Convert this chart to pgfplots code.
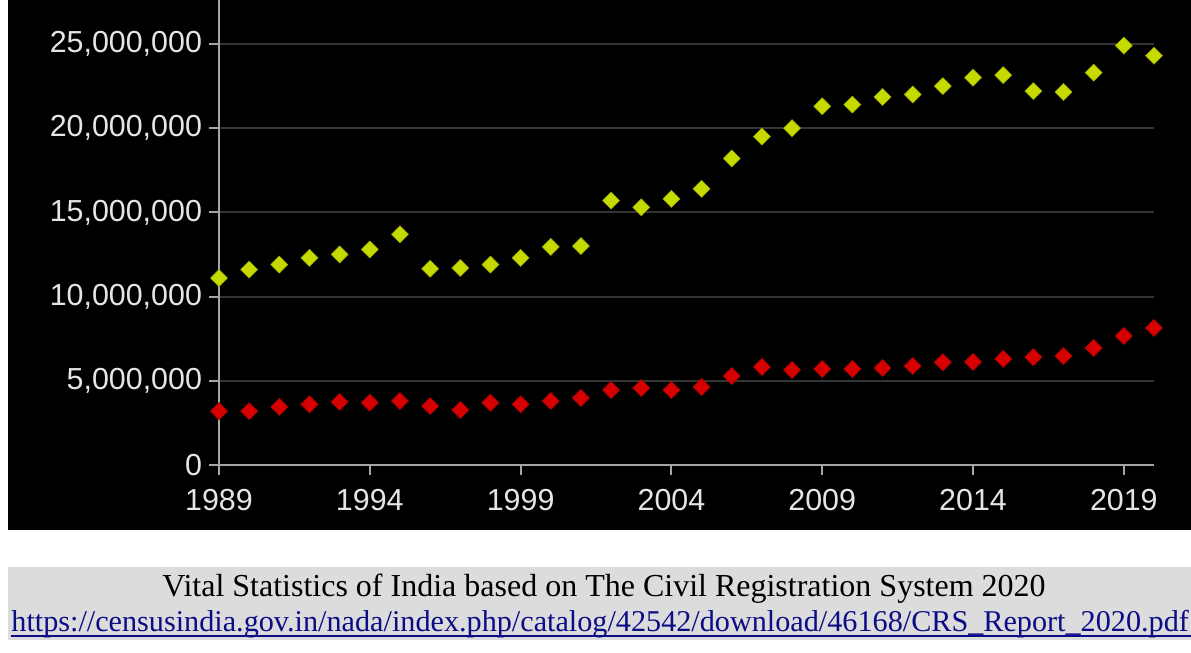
\documentclass[border=0pt]{standalone}
\usepackage{fontspec}
\setmainfont{Liberation Sans}
\newfontfamily\serif{Liberation Serif}
\usepackage{pgfplots}
\pgfplotsset{compat=1.18}

\definecolor{limeg}{RGB}{198,218,0}
\definecolor{redd}{RGB}{214,0,0}
\definecolor{gridc}{RGB}{52,52,52}
\definecolor{axc}{RGB}{165,165,165}
\definecolor{capbg}{RGB}{220,220,220}
\definecolor{linkc}{RGB}{12,12,135}

\begin{document}
\begin{tikzpicture}
\useasboundingbox (0,0) rectangle (595.5pt,-326.5pt);
% backgrounds (1px = 0.5pt)
\fill[black] (4pt,0) rectangle (595.5pt,-265pt);
\fill[capbg] (4pt,-283.5pt) rectangle (595.5pt,-320pt);

\begin{axis}[
    at={(109.5pt,-232.5pt)}, anchor=south west,
    scale only axis,
    width=467.5pt, height=232.5pt,
    xmin=1989, xmax=2020,
    ymin=0, ymax=27.61e6,
    axis x line*=bottom, axis y line*=left,
    axis line style={axc, line width=1pt, -},
    tick style={axc, line width=1pt},
    tick align=outside,
    major tick length=5pt,
    xtick={1989,1994,1999,2004,2009,2014,2019},
    ytick={0,5e6,10e6,15e6,20e6,25e6},
    ymajorgrids,
    grid style={gridc, line width=1pt},
    scaled y ticks=false,
    /pgf/number format/assume math mode=true,
    xticklabel style={/pgf/number format/1000 sep={}, yshift=-3.5pt},
    yticklabel style={/pgf/number format/.cd, fixed, 1000 sep={,}},
    ticklabel style={font=\fontsize{15.2}{18}\selectfont, text=white!90!black},
    clip=false,
]
% green series
\addplot[only marks, mark=square*, mark size=3pt, mark options={rotate=45, fill=limeg, draw=limeg!80!black, line width=0.3pt}]
coordinates {
(1989,11.1e6) (1990,11.6e6) (1991,11.9e6) (1992,12.3e6) (1993,12.5e6)
(1994,12.8e6) (1995,13.7e6) (1996,11.65e6) (1997,11.7e6) (1998,11.9e6)
(1999,12.3e6) (2000,12.95e6) (2001,13.0e6) (2002,15.7e6) (2003,15.3e6)
(2004,15.8e6) (2005,16.4e6) (2006,18.2e6) (2007,19.5e6) (2008,20.0e6)
(2009,21.3e6) (2010,21.4e6) (2011,21.85e6) (2012,22.0e6) (2013,22.5e6)
(2014,23.0e6) (2015,23.15e6) (2016,22.2e6) (2017,22.15e6) (2018,23.3e6)
(2019,24.9e6) (2020,24.3e6)
};
% red series
\addplot[only marks, mark=square*, mark size=3pt, mark options={rotate=45, fill=redd, draw=redd!85!black, line width=0.3pt}]
coordinates {
(1989,3.2e6) (1990,3.2e6) (1991,3.45e6) (1992,3.6e6) (1993,3.75e6)
(1994,3.7e6) (1995,3.8e6) (1996,3.5e6) (1997,3.27e6) (1998,3.7e6)
(1999,3.6e6) (2000,3.8e6) (2001,3.98e6) (2002,4.45e6) (2003,4.57e6)
(2004,4.45e6) (2005,4.63e6) (2006,5.28e6) (2007,5.82e6) (2008,5.64e6)
(2009,5.7e6) (2010,5.7e6) (2011,5.76e6) (2012,5.88e6) (2013,6.1e6)
(2014,6.12e6) (2015,6.3e6) (2016,6.4e6) (2017,6.47e6) (2018,6.95e6)
(2019,7.66e6) (2020,8.14e6)
};
\end{axis}

% caption
\node[anchor=base, inner sep=0pt, font=\serif\fontsize{16}{19}\selectfont] at (302pt,-298.3pt)
  {Vital Statistics of India based on The Civil Registration System 2020};
\node[anchor=base west, inner sep=0pt, text=linkc, font=\serif\fontsize{15.1}{18}\selectfont] at (5.5pt,-315.8pt)
  {https://censusindia.gov.in/nada/index.php/catalog/42542/download/46168/CRS\_Report\_2020.pdf};
\draw[linkc, line width=0.9pt] (5.5pt,-317.9pt) -- (595.5pt,-317.9pt);
\end{tikzpicture}
\end{document}
